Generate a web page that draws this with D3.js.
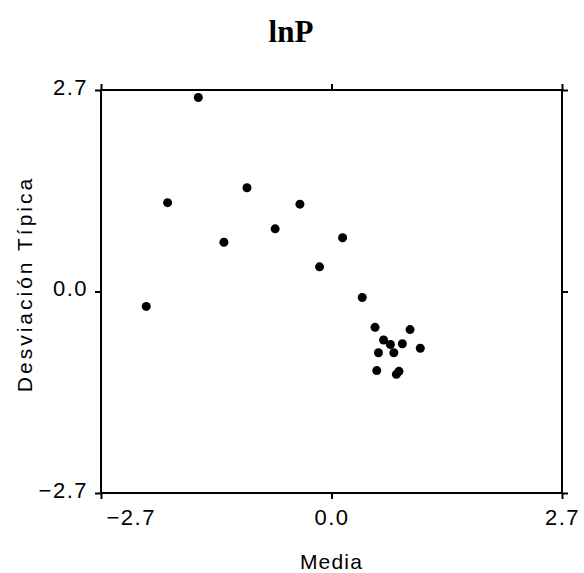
<!DOCTYPE html>
<html>
<head>
<meta charset="utf-8">
<script src="https://cdn.jsdelivr.net/npm/d3@7"></script>
<style>
  body { margin: 0; background: #fff; }
  svg { display: block; }
</style>
</head>
<body>
<div id="grafico"></div>
<script>
// valores (media, desviación típica)
const mediaValores = [-1.56, -1.92, -0.99, -0.37, -1.26, -0.66, 0.13, -0.14, -2.17, 0.36,
    0.51, 0.92, 0.61, 0.69, 0.83, 1.04, 0.55, 0.73, 0.53, 0.79, 0.76];
const desviacionValores = [2.60, 1.19, 1.39, 1.17, 0.66, 0.84, 0.72, 0.33, -0.20, -0.08,
    -0.48, -0.51, -0.65, -0.71, -0.70, -0.76, -0.82, -0.82, -1.06, -1.07, -1.11];
const ticksValores = [-2.7, 0.0, 2.7];

const titulo = "lnP";
const tituloX = "Media";
const tituloY = "Desviación  Típica";

var ancho = 584;
var alto = 573;
var margen = { top: 90, right: 22, bottom: 80, left: 101 };
var w = ancho - margen.left - margen.right;
var h = alto - margen.top - margen.bottom;

var fuente = "'Liberation Sans', Arial, sans-serif";

var svg = d3.select("#grafico")
    .append("svg")
    .attr("width", ancho)
    .attr("height", alto);

var g = svg.append("g")
    .attr("transform", "translate(" + margen.left + "," + margen.top + ")");

var x = d3.scaleLinear().domain([-2.7, 2.7]).range([0, w]);
var y = d3.scaleLinear().domain([-2.7, 2.7]).range([h, 0]);

function formato(d) {
    return d3.format(".1f")(d).replace("-", "\u2212");
}

// ejes en los cuatro lados, con marcas hacia fuera
function estiloEje(sel) {
    sel.select(".domain").remove();
    sel.selectAll(".tick line").attr("stroke", "#000").attr("stroke-width", 2);
}

var ejeX = g.append("g")
    .attr("transform", "translate(0," + h + ")")
    .call(d3.axisBottom(x).tickValues(ticksValores).tickSize(6).tickSizeOuter(0).tickFormat(formato));
estiloEje(ejeX);
ejeX.selectAll(".tick text")
    .attr("y", 32)
    .attr("dy", 0)
    .attr("font-family", fuente)
    .attr("font-size", 22)
    .attr("letter-spacing", 1.5)
    .attr("fill", "#000")
    .attr("text-anchor", (d, i) => i == 0 ? "start" : "middle")
    .attr("dx", (d, i) => i == 0 ? 5 : 0);

var ejeY = g.append("g")
    .call(d3.axisLeft(y).tickValues(ticksValores).tickSize(6).tickSizeOuter(0).tickFormat(formato));
estiloEje(ejeY);
ejeY.selectAll(".tick text")
    .attr("x", -13)
    .attr("dy", 0)
    .attr("y", 4)
    .attr("font-family", fuente)
    .attr("font-size", 22)
    .attr("letter-spacing", 1.5)
    .attr("fill", "#000");

var ejeTop = g.append("g")
    .call(d3.axisTop(x).tickValues(ticksValores).tickSize(6).tickSizeOuter(0).tickFormat(""));
estiloEje(ejeTop);

var ejeDer = g.append("g")
    .attr("transform", "translate(" + w + ",0)")
    .call(d3.axisRight(y).tickValues(ticksValores).tickSize(6).tickSizeOuter(0).tickFormat(""));
estiloEje(ejeDer);

// marco
g.append("rect")
    .attr("x", 0)
    .attr("y", 0)
    .attr("width", w)
    .attr("height", h)
    .attr("fill", "none")
    .attr("stroke", "#000")
    .attr("stroke-width", 2);

// puntos
var puntos = mediaValores.map((m, i) => ({ media: m, desv: desviacionValores[i] }));

g.selectAll("circle")
    .data(puntos)
    .enter().append("circle")
    .attr("cx", d => x(d.media))
    .attr("cy", d => y(d.desv))
    .attr("r", 4.5)
    .attr("fill", "#000");

// textos
svg.append("text")
    .attr("x", 291)
    .attr("y", 42)
    .attr("text-anchor", "middle")
    .attr("font-family", "'Liberation Serif', 'Times New Roman', serif")
    .attr("font-weight", "bold")
    .attr("font-size", 31)
    .text(titulo);

svg.append("text")
    .attr("x", margen.left + w / 2)
    .attr("y", 569)
    .attr("text-anchor", "middle")
    .attr("font-family", fuente)
    .attr("font-size", 21)
    .attr("letter-spacing", 1.2)
    .text(tituloX);

svg.append("text")
    .attr("transform", "translate(32," + 284 + ") rotate(-90)")
    .attr("text-anchor", "middle")
    .attr("font-family", fuente)
    .attr("font-size", 21)
    .attr("letter-spacing", 3)
    .text(tituloY);
</script>
</body>
</html>
